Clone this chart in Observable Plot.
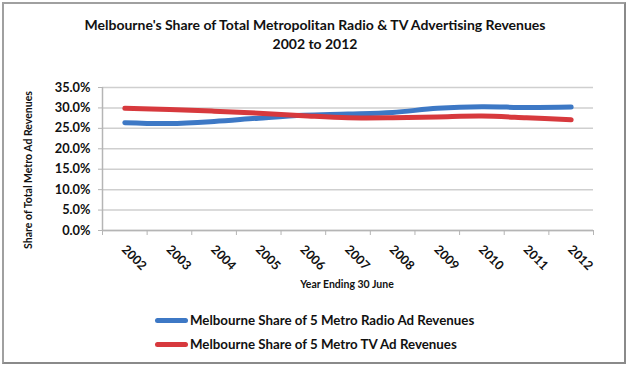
<!DOCTYPE html>
<html>
<head>
<meta charset="utf-8">
<script src="https://cdn.jsdelivr.net/npm/d3@7"></script>
<script src="https://cdn.jsdelivr.net/npm/@observablehq/plot@0.6"></script>
<style>
  html, body { margin: 0; padding: 0; background: #fff; }
  #wrap { position: relative; width: 630px; height: 368px; overflow: hidden; font-family: Lato, "Open Sans", sans-serif; color: #111; }
  #frame { position: absolute; left: 2px; top: 2px; width: 620px; height: 358px; border: 2px solid #a0a0a0; border-right-color: #8a8a8a; border-bottom-color: #8a8a8a; }
  #title { position: absolute; left: 0; width: 630px; top: 16px; text-align: center; font-weight: bold; font-size: 14px; line-height: 18.5px; }
  #chart { position: absolute; left: 0; top: 70px; }
  #ylab { position: absolute; left: 28px; top: 170px; transform: translate(-50%, -50%) rotate(-90deg); white-space: nowrap; font-weight: bold; font-size: 10.5px; }
  #xlab { position: absolute; left: 347px; top: 284px; transform: translate(-50%, -50%); white-space: nowrap; font-weight: bold; font-size: 10.5px; }
  #legend { position: absolute; left: 155px; top: 308px; font-weight: bold; font-size: 13.3px; }
  .item { height: 24px; display: flex; align-items: center; }
  .sw { width: 33px; height: 5px; border-radius: 3px; margin-right: 2px; }
</style>
</head>
<body>
<div id="wrap">
  <div id="frame"></div>
  <div id="title">Melbourne's Share of Total Metropolitan Radio &amp; TV Advertising Revenues<br>2002 to 2012</div>
  <div id="chart"></div>
  <div id="ylab">Share of Total Metro Ad Revenues</div>
  <div id="xlab">Year Ending 30 June</div>
  <div id="legend"></div>
</div>
<script>
const years = [2002, 2003, 2004, 2005, 2006, 2007, 2008, 2009, 2010, 2011, 2012];
const radioShare = [0.264, 0.262, 0.267, 0.275, 0.282, 0.285, 0.289, 0.299, 0.303, 0.301, 0.302];
const tvShare = [0.299, 0.296, 0.292, 0.287, 0.281, 0.276, 0.276, 0.278, 0.280, 0.276, 0.271];
const seriesNames = ["Melbourne Share of 5 Metro Radio Ad Revenues", "Melbourne Share of 5 Metro TV Ad Revenues"];
const seriesColors = ["#3d78c5", "#d7393d"];
const yTicks = [0, 0.05, 0.10, 0.15, 0.20, 0.25, 0.30, 0.35];

const rows = [];
years.forEach((yr, i) => {
  rows.push({year: yr, value: radioShare[i], series: seriesNames[0]});
  rows.push({year: yr, value: tvShare[i], series: seriesNames[1]});
});
const bounds = [years[0] - 0.5, ...years.map(y => y + 0.5)];

const chart = Plot.plot({
  width: 630,
  height: 240,
  marginTop: 17,
  marginBottom: 80,
  marginLeft: 102,
  marginRight: 37,
  style: {fontFamily: "Lato, 'Open Sans', sans-serif", color: "#111", background: "transparent"},
  x: {type: "linear", domain: [years[0] - 0.5, years[years.length - 1] + 0.5]},
  y: {domain: [0, 0.35]},
  color: {domain: seriesNames, range: seriesColors},
  marks: [
    Plot.gridY(yTicks, {stroke: "#cfcfcf", strokeOpacity: 1, strokeWidth: 1.5}),
    Plot.ruleX([years[0] - 0.5], {stroke: "#b5b5b5", strokeWidth: 1.5}),
    Plot.ruleY([0], {stroke: "#b5b5b5", strokeWidth: 1.5}),
    Plot.axisY({ticks: yTicks, tickFormat: d3.format(".1%"), tickSize: 4, tickPadding: 8, stroke: "#b5b5b5", fontSize: 12.8, fontWeight: "bold", label: null}),
    Plot.axisX({ticks: bounds, tickFormat: () => "", tickSize: 5, stroke: "#b5b5b5", label: null}),
    Plot.axisX({ticks: years, tickFormat: d => String(d), tickSize: 0, tickPadding: 0, dy: 17, dx: -1, rotate: 45, textAnchor: "start", lineAnchor: "middle", fontSize: 12.5, fontWeight: "bold", label: null}),
    Plot.line(rows, {x: "year", y: "value", z: "series", stroke: "series", strokeWidth: 5, curve: "catmull-rom", strokeLinecap: "round", strokeLinejoin: "round"})
  ]
});
document.getElementById("chart").appendChild(chart);

const legend = document.getElementById("legend");
seriesNames.forEach((name, i) => {
  const it = document.createElement("div");
  it.className = "item";
  const sw = document.createElement("span");
  sw.className = "sw";
  sw.style.background = seriesColors[i];
  const tx = document.createElement("span");
  tx.textContent = name;
  it.appendChild(sw);
  it.appendChild(tx);
  legend.appendChild(it);
});
</script>
</body>
</html>
